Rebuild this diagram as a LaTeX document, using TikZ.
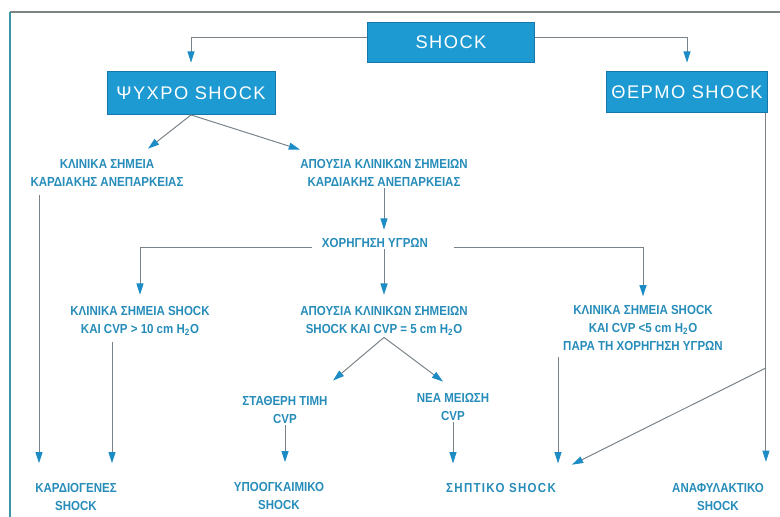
\documentclass[tikz,border=0pt]{standalone}
\usepackage{fontspec}
\setmainfont{Liberation Sans}
\newfontfamily\boxfont[LetterSpace=8]{Liberation Sans}
\newfontfamily\labelfont[FakeStretch=0.88]{Liberation Sans}
\usetikzlibrary{arrows.meta, calc}

\definecolor{boxblue}{RGB}{30,154,210}
\definecolor{boxedge}{RGB}{22,120,170}
\definecolor{textblue}{RGB}{38,140,185}
\definecolor{linegray}{RGB}{120,130,136}
\definecolor{arrowblue}{RGB}{30,140,196}
\definecolor{framegray}{RGB}{125,132,132}
\definecolor{frameteal}{RGB}{60,150,168}

\begin{document}
\begin{tikzpicture}[x=0.025cm, y=-0.025cm,
    every node/.style={text=textblue, font=\labelfont\bfseries\fontsize{9.3}{13}\selectfont, align=center, inner sep=1pt},
    boxnode/.style={fill=boxblue, draw=boxedge, line width=.6pt, text=white, font=\boxfont\fontsize{13}{15}\selectfont, inner sep=0pt},
    link/.style={draw=linegray, line width=.7pt, -{Triangle[length=8pt, width=5pt, color=arrowblue]}}]

    \useasboundingbox (0,0) rectangle (780,517);

    % frame
    \draw[framegray, line width=1pt] (780,12) -- (10,12);
    \draw[frameteal, line width=1.5pt] (10,12) -- (10,517);

    % coloured boxes
    \node[boxnode, minimum width=4.175cm, minimum height=1cm] (shock) at (451,42) {SHOCK};
    \node[boxnode, minimum width=4.2cm, minimum height=1.075cm] (cold) at (191,93) {ΨΥΧΡΟ SHOCK};
    \node[boxnode, minimum width=4.025cm, minimum height=1.025cm] (warm) at (687,92) {ΘΕΡΜΟ SHOCK};

    % cold shock branch
    \node (cardsigns) at (107,173) {ΚΛΙΝΙΚΑ ΣΗΜΕΙΑ\\ΚΑΡΔΙΑΚΗΣ ΑΝΕΠΑΡΚΕΙΑΣ};
    \node (nocardsigns) at (384,173) {ΑΠΟΥΣΙΑ ΚΛΙΝΙΚΩΝ ΣΗΜΕΙΩΝ\\ΚΑΡΔΙΑΚΗΣ ΑΝΕΠΑΡΚΕΙΑΣ};
    \node (fluids) at (375,243) {ΧΟΡΗΓΗΣΗ ΥΓΡΩΝ};

    % after fluids
    \node (highcvp) at (140,321) {ΚΛΙΝΙΚΑ ΣΗΜΕΙΑ SHOCK\\ΚΑΙ CVP > 10 cm H\textsubscript{2}O};
    \node (normcvp) at (384,321) {ΑΠΟΥΣΙΑ ΚΛΙΝΙΚΩΝ ΣΗΜΕΙΩΝ\\SHOCK ΚΑΙ CVP = 5 cm H\textsubscript{2}O};
    \node (lowcvp) at (643,328) {ΚΛΙΝΙΚΑ ΣΗΜΕΙΑ SHOCK\\ΚΑΙ CVP <5 cm H\textsubscript{2}O\\ΠΑΡΑ ΤΗ ΧΟΡΗΓΗΣΗ ΥΓΡΩΝ};
    \node (stable) at (285,410) {ΣΤΑΘΕΡΗ ΤΙΜΗ\\CVP};
    \node (drop) at (453,407) {ΝΕΑ ΜΕΙΩΣΗ\\CVP};

    % bottom row
    \node (cardio) at (76,497) {ΚΑΡΔΙΟΓΕΝΕΣ\\SHOCK};
    \node (hypo) at (279,496) {ΥΠΟΟΓΚΑΙΜΙΚΟ\\SHOCK};
    \node[font=\labelfont\bfseries\fontsize{9.3}{13}\selectfont\addfontfeature{LetterSpace=10}] (septic) at (501,488) {ΣΗΠΤΙΚΟ SHOCK};
    \node (anaph) at (718,497) {ΑΝΑΦΥΛΑΚΤΙΚΟ\\SHOCK};

    \coordinate (cardin) at ($(cardio.north)+(-37,0)$);
    \coordinate (cardin2) at ($(cardio.north)+(36,0)$);
    \coordinate (sepin) at ($(septic.north)+(57,0)$);
    \coordinate (anain) at ($(warm.south east)+(-2,0)$);
    \coordinate (branch) at ($(anain)+(0,255)$);

    % arrows
    \draw[link, shorten >=6pt] ($(shock.west)+(0,-5)$) -| (cold.north);
    \draw[link, shorten >=6pt] ($(shock.east)+(0,-5)$) -| (warm.north);
    \draw[link] (cold.south) -- ($(cardsigns.north)+(41,-9)$);
    \draw[link] (cold.south) -- ($(nocardsigns.north)+(-84,-8)$);
    \draw[link, shorten >=5pt] (nocardsigns.south) -- (nocardsigns.south |- fluids.north);
    \draw[link, shorten >=7pt] ($(fluids.west)+(-8,4)$) -| (highcvp.north);
    \draw[link, shorten >=5pt] ($(fluids.east)+(24,4)$) -| (lowcvp.north);
    \draw[link, shorten >=7pt] (normcvp.north |- fluids.south) -- (normcvp.north);
    \draw[link] (normcvp.south) -- ($(stable.north)+(48,-14)$);
    \draw[link] (normcvp.south) -- ($(drop.north)+(-10,-10)$);
    \draw[link, shorten >=13pt] (stable.south) -- (stable.south |- hypo.north);
    \draw[link, shorten >=13pt] (drop.south) -- (drop.south |- septic.north);
    \draw[link, shorten <=5pt, shorten >=13pt] (cardin |- cardsigns.south) -- (cardin);
    \draw[link, shorten <=3pt, shorten >=13pt] (cardin2 |- highcvp.south) -- (cardin2);
    \draw[link, shorten <=3pt, shorten >=13pt] (sepin |- lowcvp.south) -- (sepin);
    \draw[link, shorten >=14pt] (anain) -- (anain |- anaph.north);
    \draw[link] (branch) -- ($(septic.north)+(71,-17)$);

\end{tikzpicture}
\end{document}
